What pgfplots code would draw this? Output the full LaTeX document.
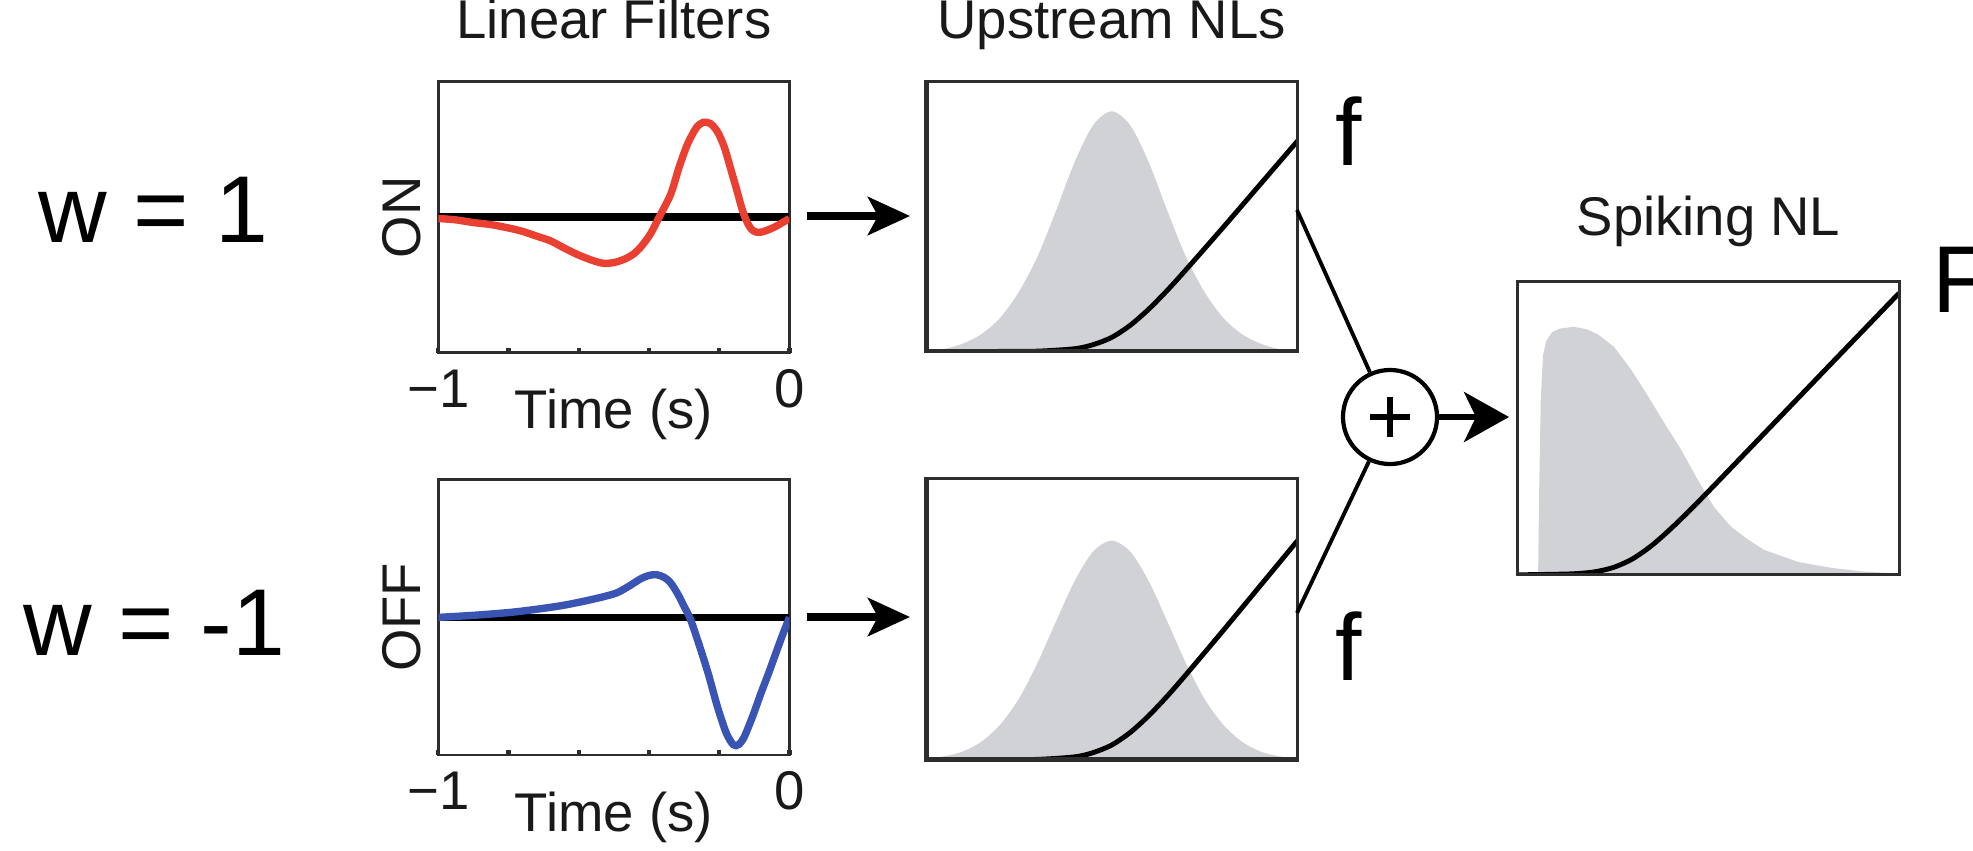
\documentclass[border=0pt]{standalone}
\usepackage{pgfplots}
\pgfplotsset{compat=1.18}
\usepackage{fontspec}
\setmainfont{Liberation Sans}
\usetikzlibrary{arrows.meta}

\definecolor{onred}{RGB}{234,64,50}
\definecolor{offblue}{RGB}{58,84,180}
\definecolor{distgray}{RGB}{209,210,213}
\definecolor{frame}{RGB}{45,45,45}
\definecolor{labeltext}{RGB}{25,25,25}

\newcommand{\panelfont}{\fontsize{15.5}{18}\selectfont}
\newcommand{\bigfont}{\fontsize{27}{30}\selectfont}

% --- data -------------------------------------------------------------
\pgfplotstableread{
t      k
-1.000 -0.010
-0.950 -0.020
-0.900 -0.040
-0.850 -0.055
-0.800 -0.080
-0.760 -0.105
-0.720 -0.140
-0.680 -0.175
-0.640 -0.230
-0.600 -0.280
-0.560 -0.320
-0.530 -0.340
-0.500 -0.335
-0.470 -0.310
-0.443 -0.270
-0.420 -0.210
-0.395 -0.120
-0.371  0.000
-0.338  0.170
-0.314  0.370
-0.290  0.540
-0.265  0.660
-0.245  0.700
-0.225  0.690
-0.205  0.630
-0.186  0.520
-0.170  0.380
-0.150  0.200
-0.135  0.060
-0.122 -0.030
-0.108 -0.090
-0.095 -0.110
-0.080 -0.110
-0.062 -0.095
-0.040 -0.070
-0.020 -0.040
 0.000 -0.010
}\onfilter

\pgfplotstableread{
t      k
-1.000  0.000
-0.900  0.015
-0.800  0.035
-0.729  0.056
-0.650  0.085
-0.586  0.117
-0.530  0.150
-0.490  0.180
-0.455  0.230
-0.424  0.280
-0.400  0.305
-0.378  0.310
-0.356  0.290
-0.338  0.250
-0.318  0.170
-0.300  0.080
-0.281 -0.020
-0.252 -0.240
-0.230 -0.420
-0.205 -0.650
-0.180 -0.840
-0.160 -0.925
-0.145 -0.925
-0.129 -0.870
-0.105 -0.720
-0.081 -0.550
-0.060 -0.410
-0.043 -0.290
-0.020 -0.130
 0.000  0.000
}\offfilter

% stimulus distribution and nonlinearity, upper branch
\pgfplotstableread{
x    p
0.00 0.003
0.05 0.010
0.10 0.030
0.15 0.065
0.20 0.125
0.25 0.220
0.30 0.350
0.35 0.520
0.40 0.700
0.45 0.838
0.50 0.890
0.55 0.838
0.60 0.700
0.65 0.520
0.70 0.350
0.75 0.220
0.80 0.125
0.85 0.065
0.90 0.030
0.95 0.010
1.00 0.003
}\ondist

\pgfplotstableread{
x    p
0.00 0.005
0.05 0.013
0.10 0.030
0.15 0.065
0.20 0.125
0.25 0.216
0.30 0.343
0.35 0.491
0.40 0.635
0.45 0.741
0.50 0.780
0.55 0.741
0.60 0.635
0.65 0.491
0.70 0.343
0.75 0.216
0.80 0.125
0.85 0.065
0.90 0.030
0.95 0.013
1.00 0.005
}\offdist

\pgfplotstableread{
x    f
0.00 0.000
0.20 0.001
0.30 0.002
0.40 0.011
0.45 0.026
0.50 0.053
0.55 0.098
0.60 0.158
0.65 0.228
0.70 0.304
0.80 0.461
0.90 0.621
1.00 0.781
}\upnl

\pgfplotstableread{
x     p
0.000 0.000
0.053 0.000
0.056 0.300
0.060 0.600
0.066 0.750
0.075 0.800
0.090 0.828
0.110 0.840
0.147 0.846
0.180 0.838
0.210 0.820
0.252 0.778
0.297 0.700
0.341 0.610
0.383 0.520
0.428 0.427
0.472 0.324
0.514 0.232
0.559 0.164
0.604 0.120
0.646 0.085
0.735 0.044
0.822 0.024
0.900 0.012
1.000 0.004
}\spkdist

\pgfplotstableread{
x    f
0.00 0.000
0.10 0.002
0.15 0.004
0.20 0.010
0.25 0.025
0.30 0.054
0.35 0.099
0.40 0.156
0.45 0.219
0.50 0.285
0.60 0.420
0.80 0.691
1.00 0.961
}\spknl

\pgfplotsset{
  lf/.style={
    scale only axis, width=3.51cm,
    xmin=-1, xmax=0, ymin=-1, ymax=1,
    axis line style={frame, line width=0.8pt},
    xtick={-1,-0.8,-0.6,-0.4,-0.2,0},
    xticklabels={−1,,,,,0},
    ytick=\empty, xtick pos=left,
    tick align=inside, major tick length=0.05cm,
    every tick/.style={frame, line width=1.2pt},
    ticklabel style={font=\panelfont, text=labeltext},
    xticklabel style={anchor=base, inner sep=0pt, yshift=-0.55cm},
    label style={font=\panelfont, text=labeltext},
    xlabel style={at={(axis description cs:0.5,0)}, anchor=base, inner sep=0pt, yshift=-0.76cm},
    ylabel style={at={(axis description cs:-0.051,0.5)}, anchor=base, inner sep=0pt},
    title style={font=\panelfont, text=labeltext, at={(0.5,1)}, anchor=base, inner sep=0pt, yshift=0.22cm},
  },
  nl/.style={
    scale only axis,
    xmin=0, xmax=1, ymin=0, ymax=1,
    xtick=\empty, ytick=\empty,
    axis on top,
    axis line style={frame, line width=0.9pt},
    title style={font=\panelfont, text=labeltext, at={(0.5,1)}, anchor=base, inner sep=0pt, yshift=0.22cm},
  },
}

\begin{document}
\begin{tikzpicture}[x=0.01cm, y=0.01cm]
\path[use as bounding box] (0,0) rectangle (1973,850);

% ---- linear filters ----
\begin{axis}[lf, at={(4.38cm,4.97cm)}, anchor=south west, height=2.71cm,
  title={Linear Filters}, xlabel={Time (s)}, ylabel={ON}]
  \addplot[black, line width=2.2pt] coordinates {(-1,0) (0,0)};
  \addplot[onred, line width=2.1pt, smooth] table[x=t, y=k] {\onfilter};
\end{axis}

\begin{axis}[lf, at={(4.38cm,0.95cm)}, anchor=south west, height=2.75cm,
  xlabel={Time (s)}, ylabel={OFF}]
  \addplot[black, line width=2.2pt] coordinates {(-1,0) (0,0)};
  \addplot[offblue, line width=2.1pt, smooth] table[x=t, y=k] {\offfilter};
\end{axis}

% ---- upstream nonlinearities ----
\begin{axis}[nl, at={(9.25cm,4.98cm)}, anchor=south west, width=3.72cm, height=2.70cm,
  title={Upstream NLs}]
  \addplot[fill=distgray, draw=none, smooth] table[x=x, y=p] {\ondist} \closedcycle;
  \addplot[black, line width=1.4pt, smooth] table[x=x, y=f] {\upnl};
  \draw[frame, line width=1.8pt] (rel axis cs:0,1) -- (rel axis cs:0,0) -- (rel axis cs:1,0);
\end{axis}

\begin{axis}[nl, at={(9.25cm,0.90cm)}, anchor=south west, width=3.72cm, height=2.81cm]
  \addplot[fill=distgray, draw=none, smooth] table[x=x, y=p] {\offdist} \closedcycle;
  \addplot[black, line width=1.4pt, smooth] table[x=x, y=f] {\upnl};
  \draw[frame, line width=1.8pt] (rel axis cs:0,1) -- (rel axis cs:0,0) -- (rel axis cs:1,0);
\end{axis}

% ---- spiking nonlinearity ----
\begin{axis}[nl, at={(15.17cm,2.75cm)}, anchor=south west, width=3.81cm, height=2.93cm,
  title={Spiking NL}, title style={yshift=0.03cm}]
  \addplot[fill=distgray, draw=none] table[x=x, y=p] {\spkdist} \closedcycle;
  \addplot[black, line width=1.4pt, smooth] table[x=x, y=f] {\spknl};
\end{axis}

% ---- connections ----
\draw[black, line width=2.2pt, -{Stealth[length=4.2mm, width=3.8mm, inset=1mm]}] (807,634) -- (910,634);
\draw[black, line width=2.2pt, -{Stealth[length=4.2mm, width=3.8mm, inset=1mm]}] (807,233) -- (910,233);

\node[circle, draw=black, line width=1.2pt, minimum size=0.94cm, inner sep=0pt] (sum) at (1390,433) {};
\draw[black, line width=1.5pt] (1370,433) -- (1410,433) (1390,413) -- (1390,453);
\draw[black, line width=1.1pt] (1297,640) -- (sum);
\draw[black, line width=1.1pt] (1297,237) -- (sum);
\draw[black, line width=1.5pt, -{Stealth[length=4.5mm, width=5mm, inset=1.2mm]}] (sum.east) -- (1509,433);

% ---- annotations (F runs past the right edge of the figure) ----
\node[anchor=base west, inner sep=0pt, font=\bigfont] at (38,608) {w = 1};
\node[anchor=base west, inner sep=0pt, font=\bigfont] at (23,195) {w = -1};
\node[anchor=base west, inner sep=0pt, font=\bigfont] at (1335,685) {f};
\node[anchor=base west, inner sep=0pt, font=\bigfont] at (1335,170) {f};
\node[anchor=base west, inner sep=0pt, font=\bigfont] at (1932,538) {F};
\end{tikzpicture}
\end{document}
